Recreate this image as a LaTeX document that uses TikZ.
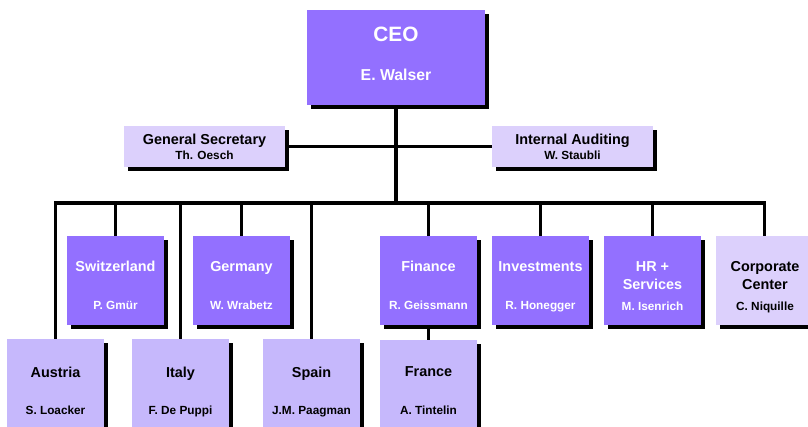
\documentclass[tikz,border=0pt]{standalone}
\usepackage{fontspec}
\setmainfont{Liberation Sans}
\usetikzlibrary{shadows}

\definecolor{unitdark}{RGB}{147,112,255}
\definecolor{unitmid}{RGB}{198,184,252}
\definecolor{unitlight}{RGB}{220,208,252}

\tikzset{
  unit/.style={rectangle, inner sep=0pt, minimum width=97pt, minimum height=89pt,
    drop shadow={shadow xshift=4pt, shadow yshift=-4pt, opacity=1, fill=black}},
  darkunit/.style={unit, fill=unitdark},
  midunit/.style={unit, fill=unitmid, minimum height=95pt},
  lightunit/.style={unit, fill=unitlight},
  staffbox/.style={lightunit, minimum width=161pt, minimum height=41pt},
  unithead/.style={anchor=base, inner sep=0pt, font=\bfseries\fontsize{14.4}{16}\selectfont},
  unitlead/.style={anchor=base, inner sep=0pt, font=\bfseries\fontsize{11.8}{14}\selectfont},
  on dark/.style={text=white},
  link/.style={line width=3.2pt, line join=miter}
}

\begin{document}
\begin{tikzpicture}[x=1pt, y=-1pt]
	\clip (0,0) rectangle (808,426);
	
	% top and staff boxes
	\node[darkunit, minimum width=178pt, minimum height=95pt] (ceo) at (396,57.5) {};
	\node[staffbox] (gensec) at (204.5,146.5) {};
	\node[staffbox] (intaud) at (572.5,146.5) {};
	
	% first row of units
	\node[darkunit] (swi) at (115.5,280.5) {};
	\node[darkunit] (ger) at (241.5,280.5) {};
	\node[darkunit] (fin) at (428.5,280.5) {};
	\node[darkunit] (inv) at (540.5,280.5) {};
	\node[darkunit] (hr) at (652.5,280.5) {};
	\node[lightunit] (corp) at (764.5,280.5) {};
	
	% second row (runs off the bottom edge)
	\node[midunit] (aut) at (55.5,386.5) {};
	\node[midunit] (ita) at (180.5,386.5) {};
	\node[midunit] (spa) at (311.5,386.5) {};
	\node[midunit] (fra) at (428.5,387.5) {};
	
	% reporting lines
	\coordinate (bus) at (396,203);
	\draw[link] (ceo.south) -- (bus);
	\draw[link] (gensec.east) -- (intaud.west);
	\foreach \u in {aut,swi,ita,ger,spa,fin,inv,hr,corp}
		\draw[link] (bus) -| (\u.north);
	\draw[link] (fin.south) -- (fra.north);
	
	% texts
	\node[anchor=base, inner sep=0pt, on dark, font=\bfseries\fontsize{20.8}{24}\selectfont] (ceot) at (396,41.7) {CEO};
	\node[anchor=base, inner sep=0pt, on dark, font=\bfseries\fontsize{15.8}{18}\selectfont] (ceol) at (396,80) {E. Walser};
	\node[unithead] (gensect) at (204.5,144) {General Secretary};
	\node[unitlead] (gensecl) at (204.5,159) {Th. Oesch};
	\node[unithead] (intaudt) at (572.5,144) {Internal Auditing};
	\node[unitlead] (intaudl) at (572.5,159) {W. Staubli};
	
	\node[unithead, on dark] (swit) at (115.5,271) {Switzerland};
	\node[unitlead, on dark] (swil) at (115.5,309) {P. Gmür};
	\node[unithead, on dark] (gert) at (241.5,271) {Germany};
	\node[unitlead, on dark] (gerl) at (241.5,309) {W. Wrabetz};
	\node[unithead, on dark] (fint) at (428.5,271) {Finance};
	\node[unitlead, on dark] (finl) at (428.5,309) {R. Geissmann};
	\node[unithead, on dark] (invt) at (540.5,271) {Investments};
	\node[unitlead, on dark] (invl) at (540.5,309) {R. Honegger};
	\node[unithead, on dark] (hrt) at (652.5,271) {HR +};
	\node[unithead, on dark] (hrs) at (652.5,289) {Services};
	\node[unitlead, on dark] (hrl) at (652.5,310) {M. Isenrich};
	\node[unithead] (corpt) at (765,271) {Corporate};
	\node[unithead] (corpc) at (765,289) {Center};
	\node[unitlead] (corpl) at (765,310) {C. Niquille};
	
	\node[unithead] (autt) at (55.5,377) {Austria};
	\node[unitlead] (autl) at (55.5,414) {S. Loacker};
	\node[unithead] (itat) at (180.5,377) {Italy};
	\node[unitlead] (ital) at (180.5,414) {F. De Puppi};
	\node[unithead] (spat) at (311.5,377) {Spain};
	\node[unitlead] (spal) at (311.5,414) {J.M. Paagman};
	\node[unithead] (frat) at (428.5,376) {France};
	\node[unitlead] (fral) at (428.5,414) {A. Tintelin};
\end{tikzpicture}
\end{document}
